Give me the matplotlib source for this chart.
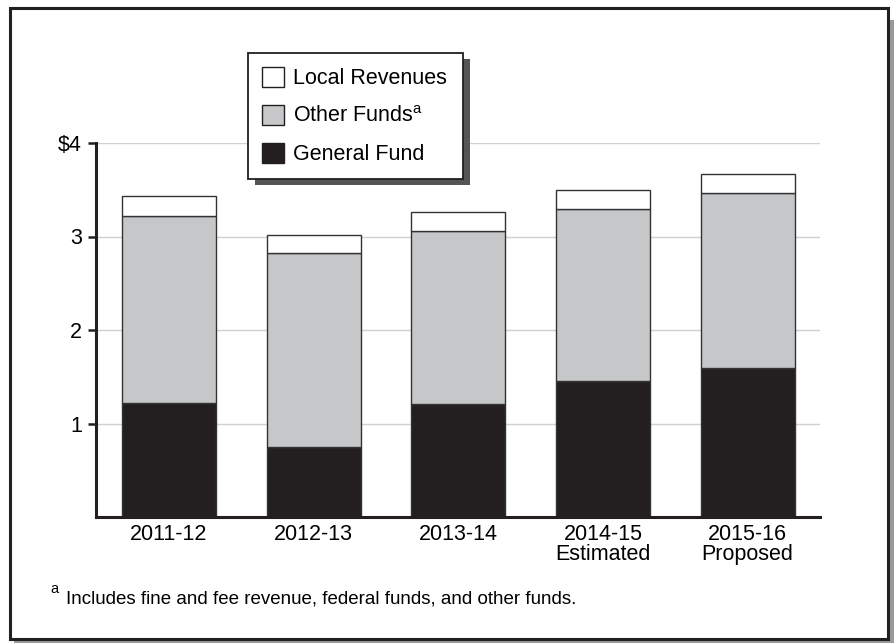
import matplotlib
matplotlib.use("Agg")
import matplotlib.pyplot as plt
from matplotlib.patches import Rectangle, Patch
import numpy as np

plt.rcParams['font.family'] = ['Liberation Sans', 'DejaVu Sans']
plt.rcParams['mathtext.fontset'] = 'custom'
plt.rcParams['mathtext.rm'] = 'Liberation Sans'

categories = ["2011-12", "2012-13", "2013-14", "2014-15\nEstimated", "2015-16\nProposed"]
general_fund = [1.22, 0.75, 1.21, 1.45, 1.59]
other_funds = [2.00, 2.07, 1.85, 1.84, 1.88]
local_revenues = [0.21, 0.20, 0.20, 0.21, 0.20]
y_ticks = [1, 2, 3, 4]
y_tick_labels = ["1", "2", "3", "$4"]
legend_labels = ["Local Revenues", "Other Funds$^\\mathregular{a}$", "General Fund"]
footnote = "Includes fine and fee revenue, federal funds, and other funds."

W, H = 894, 643
fig = plt.figure(figsize=(W / 100, H / 100), dpi=100)

def fx(px):
    return px / W

def fy(py):
    return 1 - py / H

# outer frame with shadow
fig.patches.append(Rectangle((fx(14), fy(643)), fx(880), (643 - 20) / H,
                             transform=fig.transFigure, facecolor="#9a9a9a",
                             edgecolor="none", zorder=0))
fig.patches.append(Rectangle((fx(10), fy(639)), fx(878), (639 - 8) / H,
                             transform=fig.transFigure, facecolor="white",
                             edgecolor="#231f20", linewidth=2.2, zorder=1))

ax = fig.add_axes([fx(96), fy(517), fx(820 - 96), (517 - 143) / H])
ax.set_zorder(2)
ax.patch.set_visible(False)

x = np.arange(len(categories))
width = 0.65
gf = np.array(general_fund)
of = np.array(other_funds)
lr = np.array(local_revenues)
edge = "#333333"
ax.bar(x, gf, width, color="#231f20", edgecolor=edge, linewidth=1.0, zorder=3)
ax.bar(x, of, width, bottom=gf, color="#c6c7c9", edgecolor=edge, linewidth=1.0, zorder=3)
ax.bar(x, lr, width, bottom=gf + of, color="white", edgecolor=edge, linewidth=1.0, zorder=3)

ax.set_xlim(-0.505, 4.5)
ax.set_ylim(0, 4)
ax.set_yticks(y_ticks)
ax.set_yticklabels(y_tick_labels, fontsize=15.5)
ax.set_xticks(x)
ax.set_xticklabels(categories, fontsize=15.5, linespacing=0.95)
ax.tick_params(axis="x", length=0, pad=5)
ax.tick_params(axis="y", direction="out", length=6, width=1.8, color="#231f20", pad=4)
for yv in y_ticks:
    ax.axhline(yv, color="#d0d0d0", linewidth=1.0, zorder=1)
for s in ["top", "right"]:
    ax.spines[s].set_visible(False)
for s in ["left", "bottom"]:
    ax.spines[s].set_linewidth(2.2)
    ax.spines[s].set_color("#231f20")
    ax.spines[s].set_zorder(4)

handles = [Patch(facecolor="white", edgecolor="#231f20", linewidth=1.0),
           Patch(facecolor="#c6c7c9", edgecolor="#231f20", linewidth=1.0),
           Patch(facecolor="#231f20", edgecolor="#231f20", linewidth=1.0)]
leg = fig.legend(handles, legend_labels, loc="upper left",
                 bbox_to_anchor=(fx(248), fy(53), fx(463 - 248), 0),
                 bbox_transform=fig.transFigure, mode="expand",
                 borderaxespad=0, fontsize=15.5, frameon=True, fancybox=False,
                 edgecolor="#231f20", framealpha=1, handlelength=1.02,
                 handleheight=1.02, handletextpad=0.42, labelspacing=0.74,
                 borderpad=0.65)
leg.get_frame().set_linewidth(1.3)
leg.set_zorder(10)

fig.canvas.draw()
bb = leg.get_window_extent().transformed(fig.transFigure.inverted())
fig.patches.append(Rectangle((bb.x0 + fx(7), bb.y0 - 6 / H), bb.width, bb.height,
                             transform=fig.transFigure, facecolor="#555555",
                             edgecolor="none", zorder=9))

fig.text(fx(50), fy(589), "a", fontsize=10.5, va="center", ha="left", zorder=5)
fig.text(fx(66), fy(603), footnote, fontsize=13.5, va="baseline", ha="left", zorder=5)

fig.savefig("out.png", dpi=100)
